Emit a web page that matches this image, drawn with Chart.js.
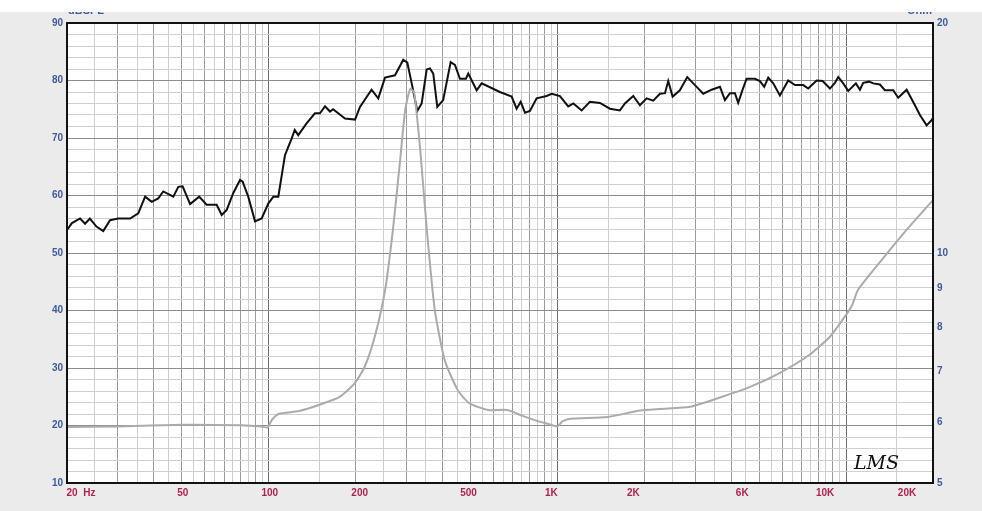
<!DOCTYPE html>
<html>
<head>
<meta charset="utf-8">
<script src="https://cdn.jsdelivr.net/npm/chart.js@4/dist/chart.umd.min.js"></script>
<style>
  body { margin: 0; background: #ebebeb; }
  #wrap { position: relative; width: 982px; height: 511px; }
  #topStrip { position: absolute; left: 0; top: 0; width: 982px; height: 12px; background: #fff; }
</style>
</head>
<body>
<div id="wrap">
  <canvas id="myChart" width="982" height="511"></canvas>
  <div id="topStrip"></div>
</div>
<script>
// SPL curve (black)
var freqSpl = [20,20.8,22.2,23.1,24,25.3,26.7,28.2,30.1,33.1,35.3,37.3,39.3,41.4,43.1,46.7,48.6,50.3,53.4,57.4,
  60.9,66,68.7,71.5,75.3,79.5,81.2,84.9,89.6,94.5,99.6,103.7,107.9,113.8,120,123,126.5,135,144.5,150.4,
  156.6,163,167,183.7,199,207,227,239.5,252.7,273.7,292.4,302,312.7,327,338.6,352.4,361.8,371.4,383.5,402,
  426.7,441.5,459.5,482,491,525,546.4,632,694,722,746,772,803,847,917,955,1020,1090,1135,1213,
  1296,1404,1520,1646,1713,1831,1931,2037,2148,2265,2358,2420,2506,2656,2816,3036,3200,3422,3656,3804,
  3958,4120,4228,4380,4522,4832,5028,5204,5374,5592,5898,6302,6648,7102,7392,7904,8292,8790,9148,9392,
  9774,10172,10812,11164,11462,12024,12414,13096,13628,14562,15154,16204,17314,18018,19010,19778,20000];
var spl = [54.0,55.2,56.0,55.1,56.0,54.6,53.8,55.7,56.0,56.0,56.9,59.8,58.9,59.5,60.7,59.8,61.5,61.6,58.5,59.8,
  58.4,58.4,56.6,57.5,60.4,62.7,62.4,59.8,55.5,56.0,58.6,59.8,59.8,67.0,69.9,71.4,70.5,72.5,74.3,74.3,
  75.5,74.6,75.0,73.4,73.2,75.4,78.4,76.9,80.5,80.9,83.6,83.1,79.5,74.7,76.0,81.9,82.1,81.2,75.4,76.6,
  83.2,82.7,80.3,80.3,81.2,78.3,79.5,78.0,77.2,75.1,76.3,74.4,74.7,76.9,77.3,77.7,77.3,75.5,76.0,74.8,
  76.3,76.1,75.1,74.8,76.0,77.3,75.7,76.9,76.5,77.7,77.8,79.9,77.2,78.3,80.6,78.9,77.7,78.4,78.9,76.6,
  77.8,77.8,76.1,78.4,80.3,80.3,79.9,78.9,80.5,79.5,77.4,80.0,79.2,79.2,78.6,80.0,79.9,78.6,79.6,80.6,
  79.5,78.2,79.5,78.4,79.6,79.8,79.5,79.3,78.3,78.3,77.0,78.4,75.7,74.0,72.2,73.1,73.5];

// impedance curve (gray), ohm
var freqImp = [20,30,50,80,94,99,102.6,108.6,127,150,176,199,216,234,253,269,285,297,309,319,
  335,353,376,407,451,494,576,671,757,850,935,1000,1040,1110,1490,1930,2265,2880,3656,4650,
  5900,7470,8790,10000,10500,11000,13100,15950,20000];
var imp = [5.92,5.93,5.96,5.95,5.93,5.91,6.05,6.16,6.21,6.33,6.48,6.76,7.13,7.82,8.95,10.7,13.2,15.4,16.4,16.2,
  13.6,10.7,8.42,7.24,6.62,6.36,6.23,6.23,6.12,6.03,5.97,5.93,6.02,6.07,6.10,6.22,6.25,6.29,6.47,6.68,
  6.97,7.36,7.77,8.30,8.55,8.95,9.73,10.65,11.73];

// tick labels
var xLabelValues = [20,50,100,200,500,1000,2000,5000,10000,20000];
var xLabelTexts = ['20  Hz','50','100','200','500','1K','2K','6K','10K','20K'];
var ohmTicks = [5,6,7,8,9,10,20];

// label nudges (px), the LMS labels drift left toward the right end
var xLabelShift = [14,1,1,4,-2,-6,-11,-17,-21,-26];

var blue = '#3d5a9c';
var red = '#b01f4f';
var tickFont = { family: 'Liberation Sans, Arial, sans-serif', size: 10, weight: 'bold' };

// vertical grid: every half step inside each decade
var xGrid = [];
[10,100,1000,10000].forEach(function (d) {
  for (var m = 1; m < 10; m += 0.5) {
    var v = m * d;
    if (v >= 20 && v <= 20000) xGrid.push(v);
  }
});
xGrid.push(20000);

function xGridColor(c) {
  var v = c.tick && c.tick.value;
  if (v === undefined) return '#ccc';
  var d = Math.pow(10, Math.floor(Math.log10(v) + 1e-9));
  var m = Math.round(v / d * 10) / 10;
  if (m === 1) return '#6e6e6e';
  if (m % 1 === 0) return '#9a9a9a';
  return '#cdcdcd';
}

var decor = {
  id: 'decor',
  beforeDraw: function (chart) {
    var a = chart.chartArea, ctx = chart.ctx;
    ctx.save();
    ctx.fillStyle = '#fff';
    ctx.fillRect(a.left, a.top, a.right - a.left, a.bottom - a.top);
    ctx.restore();
  },
  afterDraw: function (chart) {
    var a = chart.chartArea, ctx = chart.ctx, xs = chart.scales.x;
    ctx.save();
    ctx.strokeStyle = '#111';
    ctx.lineWidth = 2;
    ctx.strokeRect(a.left, a.top, a.right - a.left, a.bottom - a.top);

    // x labels
    ctx.font = 'bold 10px Liberation Sans, Arial, sans-serif';
    ctx.fillStyle = red;
    ctx.textAlign = 'center';
    ctx.textBaseline = 'middle';
    for (var i = 0; i < xLabelValues.length; i++) {
      ctx.fillText(xLabelTexts[i], xs.getPixelForValue(xLabelValues[i]) + xLabelShift[i], a.bottom + 10);
    }

    // axis titles (top half hidden by the white strip)
    ctx.font = 'bold 11px Liberation Sans, Arial, sans-serif';
    ctx.fillStyle = blue;
    ctx.textAlign = 'left';
    ctx.fillText('dBSPL', a.left + 1, 11);
    ctx.textAlign = 'right';
    ctx.fillText('Ohm', a.right - 1, 11);

    // signature
    ctx.font = 'italic 19px DejaVu Serif, serif';
    ctx.fillStyle = '#111';
    ctx.textAlign = 'right';
    ctx.fillText('LMS', a.right - 34, a.bottom - 19);
    ctx.restore();
  }
};

window.onload = function () {
  var ctx = document.getElementById('myChart').getContext('2d');
  new Chart(ctx, {
    type: 'line',
    data: {
      datasets: [{
        label: 'Impedance',
        data: freqImp.map(function (f, i) { return { x: f, y: imp[i] }; }),
        yAxisID: 'y1',
        borderColor: '#ababab',
        borderWidth: 2,
        pointRadius: 0,
        tension: 0.2
      }, {
        label: 'SPL',
        data: freqSpl.map(function (f, i) { return { x: f, y: spl[i] }; }),
        yAxisID: 'y',
        borderColor: '#111',
        borderWidth: 2,
        pointRadius: 0,
        tension: 0
      }]
    },
    plugins: [decor],
    options: {
      responsive: false,
      animation: false,
      layout: { padding: { top: 23, left: 0, right: 0, bottom: 0 } },
      plugins: { legend: { display: false }, tooltip: { enabled: false } },
      scales: {
        x: {
          type: 'logarithmic',
          min: 20,
          max: 20000,
          afterBuildTicks: function (s) { s.ticks = xGrid.map(function (v) { return { value: v }; }); },
          afterFit: function (s) { s.height = 28; },
          ticks: { display: false, autoSkip: false },
          grid: { color: xGridColor, lineWidth: 1, drawTicks: false },
          border: { display: false }
        },
        y: {
          position: 'left',
          min: 10,
          max: 90,
          afterFit: function (s) { s.width = 67; },
          ticks: {
            stepSize: 2,
            autoSkip: false,
            padding: 4,
            color: blue,
            font: tickFont,
            callback: function (v) { return v % 10 === 0 ? v : ''; }
          },
          grid: {
            color: function (c) { return c.tick && c.tick.value % 10 === 0 ? '#8c8c8c' : '#d0d0d0'; },
            drawTicks: false
          },
          border: { display: false }
        },
        y1: {
          type: 'logarithmic',
          position: 'right',
          min: 5,
          max: 20,
          afterBuildTicks: function (s) { s.ticks = ohmTicks.map(function (v) { return { value: v }; }); },
          afterFit: function (s) { s.width = 49; },
          ticks: {
            autoSkip: false,
            padding: 4,
            color: blue,
            font: tickFont,
            callback: function (v) { return String(v); }
          },
          grid: { display: false, drawTicks: false },
          border: { display: false }
        }
      }
    }
  });
};
</script>
</body>
</html>
